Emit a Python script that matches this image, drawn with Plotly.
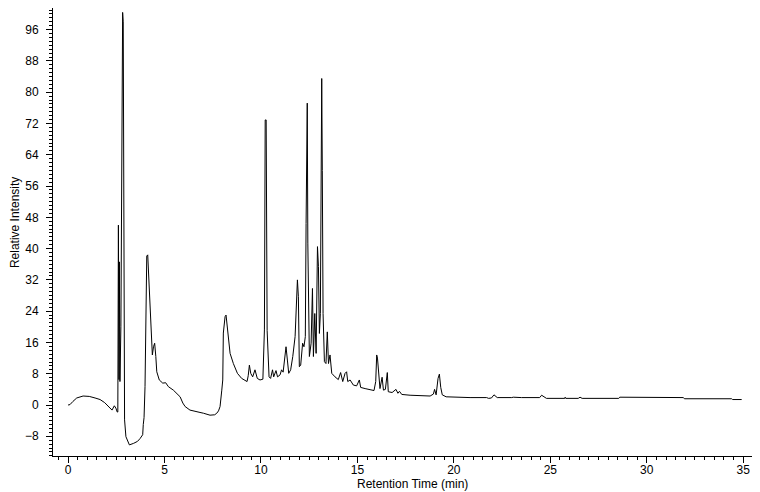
import plotly.graph_objects as go

# Retention time (min) and relative intensity
time_min = [
    0.00, 0.10, 0.25, 0.45, 0.78, 1.10, 1.40, 1.66, 1.90, 2.10, 2.28, 2.40, 2.48, 2.55,
    2.58, 2.61, 2.64, 2.66, 2.69, 2.74, 2.80, 2.83, 2.86, 2.90, 2.93, 3.00, 3.18, 3.40,
    3.60, 3.73, 3.80, 3.87, 3.90, 3.94, 3.99, 4.03, 4.08, 4.13, 4.20, 4.29, 4.37, 4.43,
    4.49, 4.55, 4.60, 4.73, 4.91, 5.06, 5.20, 5.46, 5.64, 5.81, 5.95, 6.07, 6.32, 6.60,
    6.84, 7.02, 7.36, 7.60, 7.71, 7.80, 7.88, 7.97, 8.02, 8.05, 8.14, 8.19, 8.26, 8.40,
    8.57, 8.78, 9.00, 9.18, 9.28, 9.34, 9.40, 9.47, 9.57, 9.69, 9.81, 9.95, 10.10, 10.18,
    10.22, 10.27, 10.32, 10.42, 10.50, 10.60, 10.66, 10.78, 10.86, 10.99, 11.07, 11.15,
    11.25, 11.30, 11.37, 11.44, 11.54, 11.65, 11.77, 11.82, 11.89, 11.94, 11.99, 12.06,
    12.16, 12.23, 12.30, 12.34, 12.37, 12.40, 12.43, 12.47, 12.51, 12.60, 12.67, 12.72,
    12.79, 12.86, 12.93, 12.98, 13.03, 13.08, 13.12, 13.15, 13.18, 13.22, 13.29, 13.37,
    13.44, 13.50, 13.58, 13.67, 13.84, 14.01, 14.13, 14.24, 14.36, 14.44, 14.50, 14.62,
    14.79, 14.96, 15.10, 15.17, 15.40, 15.66, 15.86, 15.95, 16.00, 16.04, 16.10, 16.17,
    16.28, 16.35, 16.45, 16.55, 16.60, 16.80, 17.00, 17.10, 17.18, 17.30, 17.73, 18.77,
    18.94, 19.00, 19.08, 19.18, 19.25, 19.32, 19.40, 19.60, 20.84, 21.70, 21.80, 21.95,
    22.08, 22.25, 23.00, 23.08, 23.50, 24.45, 24.55, 24.70, 24.80, 25.75, 25.77, 25.80,
    26.45, 26.54, 26.65, 28.55, 28.60, 31.90, 31.95, 34.40, 34.45, 34.92,
]
intensity = [
    0.0, 0.1, 0.9, 1.8, 2.3, 2.2, 1.8, 1.4, 0.6, -0.5, -1.3, -0.2, -0.8, -1.8,
    -1.8, 46.0, 6.5, 36.6, 6.0, 20.0, 98.0, 100.4, 98.0, 19.0, -3.8, -8.1, -10.2, -9.8,
    -9.3, -8.6, -7.9, -7.6, -5.0, -3.2, 4.7, 20.2, 38.1, 38.4, 30.7, 21.0, 12.8, 14.9,
    15.8, 12.4, 8.5, 6.4, 5.6, 5.7, 4.7, 3.8, 3.0, 2.1, 0.5, -0.4, -1.3, -1.7,
    -1.9, -2.1, -2.6, -2.5, -2.1, -1.5, -0.4, 3.8, 6.4, 18.4, 22.6, 23.0, 20.0, 13.2,
    10.6, 8.1, 6.8, 6.4, 6.0, 7.5, 10.2, 8.1, 7.2, 9.0, 6.8, 6.4, 6.6, 19.2,
    72.9, 72.9, 19.0, 7.2, 6.8, 9.0, 7.2, 8.8, 7.2, 7.7, 9.0, 8.4,
    12.4, 14.9, 11.5, 8.1, 9.0, 12.4, 17.5, 23.5, 32.0, 27.7, 9.8, 10.2,
    15.8, 14.9, 17.5, 46.4, 58.8, 77.2, 41.4, 20.0, 12.4, 15.8, 29.8, 12.4,
    23.4, 13.2, 40.5, 35.4, 18.3, 23.4, 70.0, 83.5, 60.0, 23.4, 11.1, 10.6,
    18.7, 10.6, 12.8, 8.1, 7.2, 6.5, 8.3, 6.0, 8.1, 8.5, 6.0, 6.4,
    5.1, 4.9, 6.4, 4.5, 4.2, 4.0, 3.7, 6.0, 12.8, 12.0, 8.5, 4.2,
    7.1, 3.8, 4.0, 8.3, 3.4, 3.2, 4.0, 3.0, 3.5, 2.7, 2.5, 2.3,
    2.8, 4.0, 2.6, 6.8, 7.9, 4.5, 2.6, 2.1, 1.9, 1.9, 1.7, 1.8,
    2.6, 1.9, 1.9, 2.0, 1.9, 1.9, 2.5, 1.9, 1.7, 1.7, 2.0, 1.7,
    1.7, 2.0, 1.7, 1.7, 2.0, 1.9, 1.6, 1.6, 1.4, 1.4,
]

x_title = "Retention Time (min)"
y_title = "Relative Intensity"

FONT = "Liberation Sans, Arial, sans-serif"

fig = go.Figure()
fig.add_trace(go.Scatter(
    x=time_min, y=intensity, mode="lines",
    line=dict(color="black", width=1),
    hoverinfo="skip", showlegend=False,
))

# page body adds an 8px margin, so the figure is 8px smaller than the window
fig.update_layout(
    width=752, height=484,
    margin=dict(l=45, r=0, t=0, b=36, autoexpand=False),
    paper_bgcolor="white", plot_bgcolor="white",
    font=dict(family=FONT, size=12, color="black"),
    xaxis=dict(
        range=[-0.78, 35.87], showgrid=False, zeroline=False,
        showline=True, linecolor="black", linewidth=1,
        ticks="outside", ticklen=6, tickcolor="black", tickwidth=1,
        tick0=0, dtick=5, ticklabelstandoff=-3,
        minor=dict(ticks="outside", ticklen=3, tickcolor="black", dtick=0.5, tick0=0),
        tickfont=dict(size=12), automargin=False,
    ),
    yaxis=dict(
        range=[-13.04, 101.53], showgrid=False, zeroline=False,
        showline=True, linecolor="black", linewidth=1,
        ticks="outside", ticklen=6, tickcolor="black", tickwidth=1,
        tick0=0, dtick=8, ticklabelstandoff=5,
        minor=dict(ticks="outside", ticklen=3, tickcolor="black", dtick=1, tick0=0),
        tickfont=dict(size=12), automargin=False,
    ),
    annotations=[
        dict(text=y_title, xref="paper", yref="paper", x=-0.0537, y=0.520,
             xanchor="center", yanchor="middle", textangle=-90, showarrow=False,
             font=dict(size=12)),
        dict(text=x_title, xref="paper", yref="paper", x=0.509, y=-0.0625,
             xanchor="center", yanchor="middle", showarrow=False,
             font=dict(size=12)),
    ],
)

fig.write_html("out.html")
